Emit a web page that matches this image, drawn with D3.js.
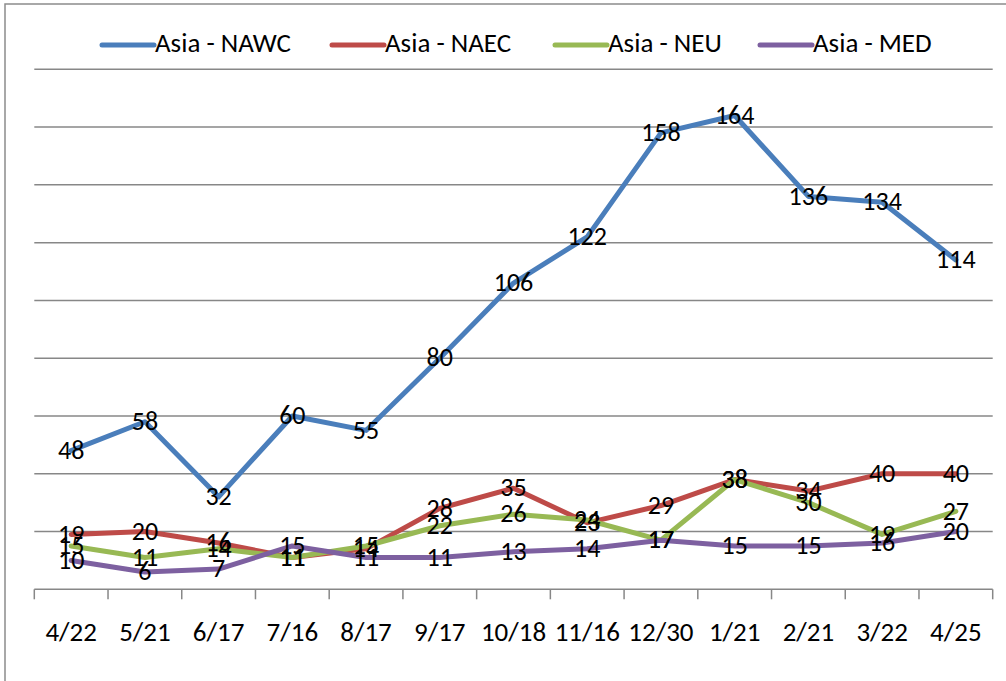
<!DOCTYPE html>
<html>
<head>
<meta charset="utf-8">
<script src="https://cdn.jsdelivr.net/npm/d3@7"></script>
<style>
  body { margin: 0; background: #fff; }
  svg { display: block; }
  text { font-family: Carlito, Calibri, "Liberation Sans", sans-serif; fill: #000; }
</style>
</head>
<body>
<svg id="chart" width="1006" height="681"></svg>
<script>
// chart data
const dates = ['4/22', '5/21', '6/17', '7/16', '8/17', '9/17', '10/18', '11/16', '12/30', '1/21', '2/21', '3/22', '4/25']
const seriesNames = ['Asia - NAWC', 'Asia - NAEC', 'Asia - NEU', 'Asia - MED']
const nawc = [48, 58, 32, 60, 55, 80, 106, 122, 158, 164, 136, 134, 114]
const naec = [19, 20, 16, 11, 14, 28, 35, 23, 29, 38, 34, 40, 40]
const neu = [15, 11, 14, 11, 15, 22, 26, 24, 17, 38, 30, 19, 27]
const med = [10, 6, 7, 15, 11, 11, 13, 14, 17, 15, 15, 16, 20]
const colors = ['#4A7EBB', '#BE4B48', '#98B954', '#7D60A0']

let series = [nawc, naec, neu, med].map((vals, i) => ({name: seriesNames[i], color: colors[i], values: vals}))

let svg = d3.select('#chart')

// outer border
svg.append('rect')
  .attr('x', 5).attr('y', 4)
  .attr('width', 1010).attr('height', 690)
  .attr('fill', 'none')
  .attr('stroke', '#8c8c8c')
  .attr('stroke-width', 1.5)

let plotLeft = 34.3, plotRight = 992.7, plotTop = 69.3, plotBottom = 589.3

let x = d3.scaleBand().domain(dates).range([plotLeft, plotRight])
let y = d3.scaleLinear().domain([0, 180]).range([plotBottom, plotTop])

// gridlines
svg.append('g')
  .selectAll('line')
  .data(d3.range(20, 181, 20))
  .enter()
  .append('line')
  .attr('x1', plotLeft).attr('x2', plotRight)
  .attr('y1', d => y(d)).attr('y2', d => y(d))
  .attr('stroke', '#878787')
  .attr('stroke-width', 1.5)

// x axis
let xAxis = svg.append('g')
  .attr('transform', `translate(0,${plotBottom})`)
  .call(d3.axisBottom(x).tickSize(0).tickPadding(0))
xAxis.select('.domain').remove()
xAxis.selectAll('text')
  .attr('y', 42)
  .attr('dy', '0.35em')
  .style('font-size', '27px')

svg.append('line')
  .attr('x1', plotLeft).attr('x2', plotRight)
  .attr('y1', plotBottom).attr('y2', plotBottom)
  .attr('stroke', '#878787')
  .attr('stroke-width', 1.5)

svg.append('g')
  .selectAll('line')
  .data(dates.concat(['end']))
  .enter()
  .append('line')
  .attr('x1', (d, i) => plotLeft + x.step() * i)
  .attr('x2', (d, i) => plotLeft + x.step() * i)
  .attr('y1', plotBottom).attr('y2', plotBottom + 10)
  .attr('stroke', '#878787')
  .attr('stroke-width', 1.5)

// lines
let line = d3.line()
  .x((d, i) => x(dates[i]) + x.bandwidth() / 2)
  .y(d => y(d))

svg.append('g')
  .selectAll('path')
  .data(series)
  .enter()
  .append('path')
  .attr('d', d => line(d.values))
  .attr('fill', 'none')
  .attr('stroke', d => d.color)
  .attr('stroke-width', 5)
  .attr('stroke-linejoin', 'round')
  .attr('stroke-linecap', 'round')

// data labels
series.forEach(s => {
  svg.append('g')
    .selectAll('text')
    .data(s.values)
    .enter()
    .append('text')
    .attr('x', (d, i) => x(dates[i]) + x.bandwidth() / 2)
    .attr('y', d => y(d) + 2)
    .attr('text-anchor', 'middle')
    .attr('dominant-baseline', 'middle')
    .style('font-size', '26px')
    .text(d => d)
})

// legend
let legendX = [100, 330, 553, 758]
let legend = svg.append('g')
  .selectAll('g')
  .data(series)
  .enter()
  .append('g')
  .attr('transform', (d, i) => `translate(${legendX[i]},45)`)

legend.append('line')
  .attr('x1', 2).attr('x2', 54)
  .attr('y1', 0).attr('y2', 0)
  .attr('stroke', d => d.color)
  .attr('stroke-width', 5)
  .attr('stroke-linecap', 'round')

legend.append('text')
  .attr('x', 55)
  .attr('y', 1)
  .attr('dominant-baseline', 'middle')
  .style('font-size', '27px')
  .text(d => d.name)
</script>
</body>
</html>
